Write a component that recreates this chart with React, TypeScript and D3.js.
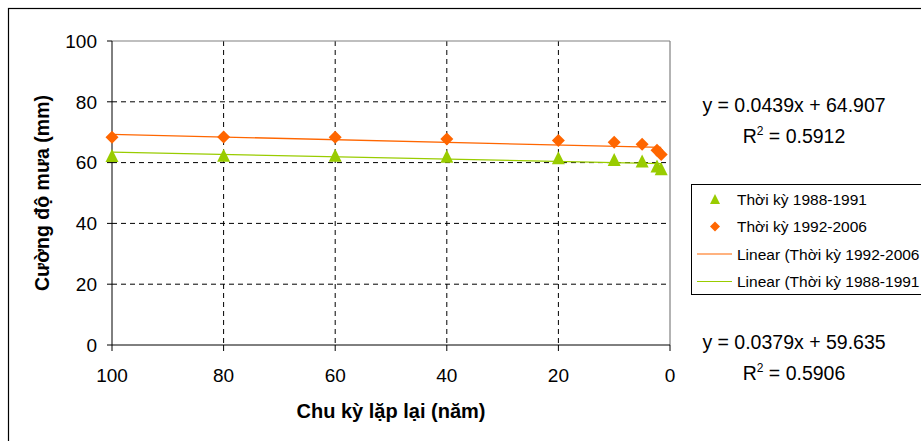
import React from "react";
import * as d3 from "d3";

const returnPeriods = [100, 80, 60, 40, 20, 10, 5, 2.33, 1.58];
const series1988 = [62.3, 62.4, 62.4, 62.1, 61.6, 61.0, 60.5, 58.9, 58.0];
const series1992 = [68.3, 68.4, 68.3, 67.8, 67.3, 66.7, 66.0, 64.1, 62.7];
const trendSlope = [0.0439, 0.0379];
const trendIntercept = [64.907, 59.635];
const trendLabels = ["y = 0.0439x + 64.907", "y = 0.0379x + 59.635"];
const r2Labels = ["0.5912", "0.5906"];
const xTicks = [100, 80, 60, 40, 20, 0];
const yTicks = [0, 20, 40, 60, 80, 100];
const legendLabels = [
  "Thời kỳ 1988-1991",
  "Thời kỳ 1992-2006",
  "Linear (Thời kỳ 1992-2006",
  "Linear (Thời kỳ 1988-1991",
];

const ORANGE = "#FF6600";
const GREEN = "#99CC00";
const FONT = "'Liberation Sans', Arial, sans-serif";

const triPath = (s: number) => `M0,${-s}L${s},${s}L${-s},${s}Z`;
const diaPath = (s: number) => `M0,${-s}L${s},0L0,${s}L${-s},0Z`;

export default function App() {
  const W = 921, H = 441;
  const left = 112, right = 670, top = 41, bottom = 345;
  const x = d3.scaleLinear().domain([100, 0]).range([left, right]);
  const y = d3.scaleLinear().domain([0, 100]).range([bottom, top]);
  const xMin = d3.min(returnPeriods) as number;
  const xMax = d3.max(returnPeriods) as number;
  const trendLine = (i: number) =>
    d3.line<number>()
      .x((d) => x(d))
      .y((d) => y(trendSlope[i] * d + trendIntercept[i]))([xMax, xMin]) as string;

  return (
    <svg width={W} height={H} style={{ position: "absolute", left: 0, top: 0, overflow: "hidden" }} fontFamily={FONT}>
      <rect x={0} y={0} width={W} height={H} fill="#fff" />
      <rect x={8.5} y={8.5} width={1200} height={1200} fill="none" stroke="#000" strokeWidth={1.2} />
      {/* gridlines */}
      {yTicks.filter((t) => t !== 0 && t !== 100).map((t) => (
        <line key={"gy" + t} x1={left} x2={right} y1={y(t)} y2={y(t)} stroke="#000" strokeDasharray="5,4" strokeWidth={1} />
      ))}
      {xTicks.filter((t) => t !== 0 && t !== 100).map((t) => (
        <line key={"gx" + t} x1={x(t)} x2={x(t)} y1={top} y2={bottom} stroke="#000" strokeDasharray="5,4" strokeWidth={1} />
      ))}
      <line x1={left} x2={right} y1={top} y2={top} stroke="#808080" strokeWidth={1.2} />
      <line x1={right} x2={right} y1={top} y2={bottom} stroke="#808080" strokeWidth={1.2} />
      {/* axes */}
      <line x1={left} x2={left} y1={top} y2={bottom} stroke="#000" strokeWidth={1} />
      <line x1={left} x2={right} y1={bottom} y2={bottom} stroke="#000" strokeWidth={1} />
      {yTicks.map((t) => (
        <g key={"ty" + t}>
          <line x1={left - 5} x2={left} y1={y(t)} y2={y(t)} stroke="#000" />
          <text x={97} y={y(t)} dy="0.36em" textAnchor="end" fontSize={19} fill="#000">{t}</text>
        </g>
      ))}
      {xTicks.map((t) => (
        <g key={"tx" + t}>
          <line x1={x(t)} x2={x(t)} y1={bottom} y2={bottom + 6} stroke="#000" />
          <text x={x(t)} y={382} textAnchor="middle" fontSize={19} fill="#000">{t}</text>
        </g>
      ))}
      <text x={(left + right) / 2} y={418} textAnchor="middle" fontSize={20} fontWeight="bold">Chu kỳ lặp lại (năm)</text>
      <text transform={`translate(49,${(top + bottom) / 2}) rotate(-90)`} textAnchor="middle" fontSize={19.5} fontWeight="bold">Cường độ mưa (mm)</text>
      {/* markers */}
      {returnPeriods.map((p, i) => (
        <path key={"g" + i} d={triPath(6.5)} transform={`translate(${x(p)},${y(series1988[i])})`} fill={GREEN} />
      ))}
      {returnPeriods.map((p, i) => (
        <path key={"o" + i} d={diaPath(6.5)} transform={`translate(${x(p)},${y(series1992[i])})`} fill={ORANGE} />
      ))}
      {/* trend lines */}
      <path d={trendLine(0)} stroke={ORANGE} strokeWidth={1.3} fill="none" />
      <path d={trendLine(1)} stroke={GREEN} strokeWidth={1.3} fill="none" />
      {/* equations */}
      {[0, 1].map((i) => {
        const base = i === 0 ? 112 : 349;
        return (
          <g key={"eq" + i} fontSize={19.5} textAnchor="middle">
            <text x={794} y={base}>{trendLabels[i]}</text>
            <text x={794} y={base + 31}>
              R<tspan dy={-8} fontSize={12}>2</tspan><tspan dy={8}> = {r2Labels[i]}</tspan>
            </text>
          </g>
        );
      })}
      {/* legend */}
      <rect x={691.5} y={184.5} width={400} height={110} fill="#fff" stroke="#000" strokeWidth={1} />
      {legendLabels.map((l, i) => {
        const cy = 199 + i * 27.5;
        return (
          <g key={"lg" + i}>
            {i === 0 && <path d={triPath(5)} transform={`translate(715,${cy})`} fill={GREEN} />}
            {i === 1 && <path d={diaPath(5)} transform={`translate(715,${cy})`} fill={ORANGE} />}
            {i >= 2 && <line x1={697} x2={732} y1={cy} y2={cy} stroke={i === 2 ? ORANGE : GREEN} strokeWidth={1.2} />}
            <text x={737} y={cy} dy="0.36em" fontSize={15.5}>{l}</text>
          </g>
        );
      })}
    </svg>
  );
}
